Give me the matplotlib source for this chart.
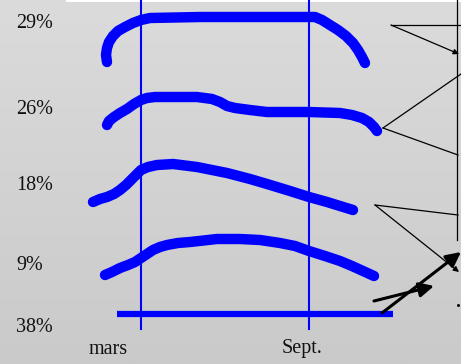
import matplotlib
matplotlib.use("Agg")
import matplotlib.pyplot as plt
import numpy as np
from matplotlib.colors import LinearSegmentedColormap

# canvas units (x: left->right, y: top->bottom)
W, H = 461, 364

# hand drawn curves
c1_x = [107, 106, 107, 109, 113, 118, 125, 133, 141, 150, 200, 260, 315, 322, 330, 338, 346, 353, 358, 362, 365]
c1_y = [62, 55, 48, 42, 36, 31, 27, 23, 20, 18, 17, 17, 17, 20, 25, 30, 36, 43, 50, 57, 63]

c2_x = [107, 109, 114, 120, 127, 134, 141, 147, 155, 197, 212, 220, 227, 235, 250, 267, 309, 340, 352, 362, 369, 374, 377]
c2_y = [125, 121, 117, 113, 109, 104, 100, 98, 97, 97, 99, 102, 106, 108, 110, 112, 112, 113, 115, 118, 122, 127, 131]

c3_x = [93, 100, 107, 114, 120, 126, 132, 137, 141, 148, 157, 173, 197, 227, 250, 267, 290, 309, 327, 340, 353]
c3_y = [202, 199, 197, 194, 190, 185, 179, 174, 170, 167, 165, 164, 167, 173, 179, 184, 191, 197, 202, 206, 210]

c4_x = [105, 112, 120, 128, 135, 141, 147, 153, 160, 167, 178, 190, 217, 240, 260, 280, 295, 309, 325, 340, 352, 363, 374]
c4_y = [275, 272, 268, 265, 262, 258, 254, 250, 247, 245, 243, 242, 239, 239, 240, 243, 246, 251, 256, 261, 266, 271, 276]

bar_x = [117, 393]
bar_y = [314, 314]

vline_x = [141, 309]
vline_top, vline_bottom = 0, 329

y_labels = ["29%", "26%", "18%", "9%", "38%"]
y_label_pos = [24, 110, 185, 265, 328]
x_labels = ["mars", "Sept."]
x_label_pos = [108, 302]

# thin black connector lines (start, end)
thin_lines = [
    ((391, 25), (461, 25)),
    ((383, 128), (461, 74)),
    ((383, 128), (458, 155)),
    ((375, 205), (458, 215)),
    ((457, 0), (457, 240)),
]
thin_arrows = [
    ((391, 25), (459, 54)),
    ((375, 205), (459, 272)),
]
thick_arrows = [
    ((382, 313), (461, 252)),
    ((374, 301), (434, 286)),
]

fig = plt.figure(figsize=(W / 100, H / 100), dpi=100)
ax = fig.add_axes([0, 0, 1, 1])
ax.set_xlim(0, W)
ax.set_ylim(H, 0)
ax.axis("off")

# grey gradient background
grad = np.linspace(0, 1, 256).reshape(-1, 1)
cmap = LinearSegmentedColormap.from_list("bg", ["#dbdbdb", "#cacaca"])
ax.imshow(grad, extent=[0, W, H, 0], aspect="auto", cmap=cmap, zorder=0)
ax.fill_between([66, W], 0, 2, color="white", lw=0, zorder=1)

for x in vline_x:
    ax.plot([x, x], [vline_top, vline_bottom], color="#0000ff", lw=1.5, zorder=2)

for cx, cy in [(c1_x, c1_y), (c2_x, c2_y), (c3_x, c3_y), (c4_x, c4_y)]:
    ax.plot(cx, cy, color="#0000ff", lw=7.5, solid_capstyle="round",
            solid_joinstyle="round", zorder=3)

ax.plot(bar_x, bar_y, color="#0000ff", lw=4.5, solid_capstyle="butt", zorder=3)

for (x0, y0), (x1, y1) in thin_lines:
    ax.plot([x0, x1], [y0, y1], color="black", lw=0.9, zorder=4)
for a, b in thin_arrows:
    ax.annotate("", xy=b, xytext=a, zorder=4, annotation_clip=False,
                arrowprops=dict(arrowstyle="-|>", color="black", lw=0.9,
                                mutation_scale=8, shrinkA=0, shrinkB=0))
for a, b in thick_arrows:
    ax.annotate("", xy=b, xytext=a, zorder=4, annotation_clip=False,
                arrowprops=dict(arrowstyle="-|>", color="black", lw=2.2,
                                mutation_scale=22, shrinkA=0, shrinkB=0))
ax.plot([458], [305], marker="s", ms=1, color="black")

for lab, y in zip(y_labels, y_label_pos):
    ax.text(16, y, lab, ha="left", va="center", fontsize=14.5,
            family="Liberation Serif", color="#111111")
for lab, x in zip(x_labels, x_label_pos):
    ax.text(x, 349, lab, ha="center", va="center", fontsize=14.5,
            family="Liberation Serif", color="#111111")

fig.savefig("out.png", dpi=100)
